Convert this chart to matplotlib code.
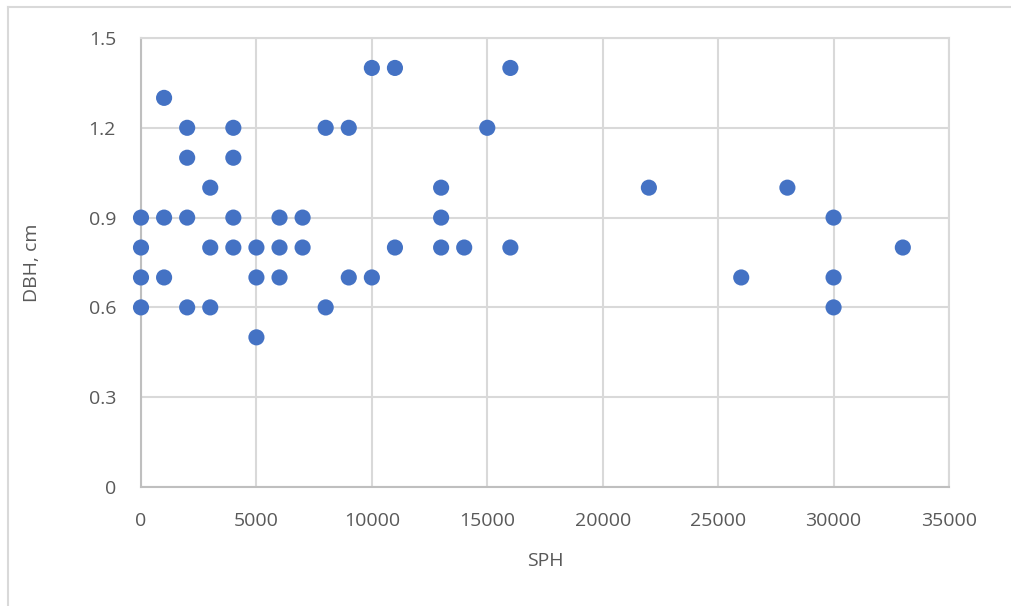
import matplotlib
matplotlib.use("Agg")
import matplotlib.pyplot as plt
from matplotlib.lines import Line2D

sph = [0, 0, 0, 0,
       1000, 1000, 1000,
       2000, 2000, 2000, 2000,
       3000, 3000, 3000,
       4000, 4000, 4000, 4000,
       5000, 5000, 5000,
       6000, 6000, 6000,
       7000, 7000,
       8000, 8000,
       9000, 9000,
       10000, 10000,
       11000, 11000,
       13000, 13000, 13000,
       14000,
       15000,
       16000, 16000,
       22000,
       26000,
       28000,
       30000, 30000, 30000,
       33000]
dbh = [0.9, 0.8, 0.7, 0.6,
       1.3, 0.9, 0.7,
       1.2, 1.1, 0.9, 0.6,
       1.0, 0.8, 0.6,
       1.2, 1.1, 0.9, 0.8,
       0.8, 0.7, 0.5,
       0.9, 0.8, 0.7,
       0.9, 0.8,
       1.2, 0.6,
       1.2, 0.7,
       1.4, 0.7,
       1.4, 0.8,
       1.0, 0.9, 0.8,
       0.8,
       1.2,
       1.4, 0.8,
       1.0,
       0.7,
       1.0,
       0.9, 0.7, 0.6,
       0.8]

x_ticks = [0, 5000, 10000, 15000, 20000, 25000, 30000, 35000]
y_ticks = [0, 0.3, 0.6, 0.9, 1.2, 1.5]
y_labels = ["0", "0.3", "0.6", "0.9", "1.2", "1.5"]

plt.rcParams['font.family'] = ['Open Sans', 'DejaVu Sans']

W, H = 1011, 606
fig = plt.figure(figsize=(W / 100, H / 100), dpi=100)
fig.patch.set_facecolor('white')

# outer chart border (light gray)
fig.add_artist(Line2D([8 / W, 8 / W], [0, 1 - 7 / H], transform=fig.transFigure,
                      color='#D9D9D9', lw=1.5))
fig.add_artist(Line2D([8 / W, 1], [1 - 7 / H, 1 - 7 / H], transform=fig.transFigure,
                      color='#D9D9D9', lw=1.5))

ax = fig.add_axes([141 / W, 1 - 487 / H, 808 / W, 449 / H])
ax.scatter(sph, dbh, s=135, color='#4472C4', edgecolors='none', zorder=3, clip_on=False)

ax.set_xlim(0, 35000)
ax.set_ylim(0, 1.5)
ax.set_xticks(x_ticks)
ax.set_xticklabels([str(v) for v in x_ticks])
ax.set_yticks(y_ticks)
ax.set_yticklabels(y_labels)

ax.grid(True, color='#D9D9D9', lw=1.5, zorder=0)
ax.set_axisbelow(True)
for s in ['top', 'right']:
    ax.spines[s].set_color('#D9D9D9')
    ax.spines[s].set_linewidth(1.5)
for s in ['left', 'bottom']:
    ax.spines[s].set_color('#BFBFBF')
    ax.spines[s].set_linewidth(1.5)

ax.tick_params(axis='both', length=0, labelsize=14, labelcolor='#595959')
ax.tick_params(axis='y', pad=18)
ax.tick_params(axis='x', pad=18)

ax.set_xlabel('SPH', fontsize=14, color='#595959', labelpad=16)
ax.set_ylabel('DBH, cm', fontsize=14, color='#595959', labelpad=34)

fig.savefig('out.png', dpi=100)
